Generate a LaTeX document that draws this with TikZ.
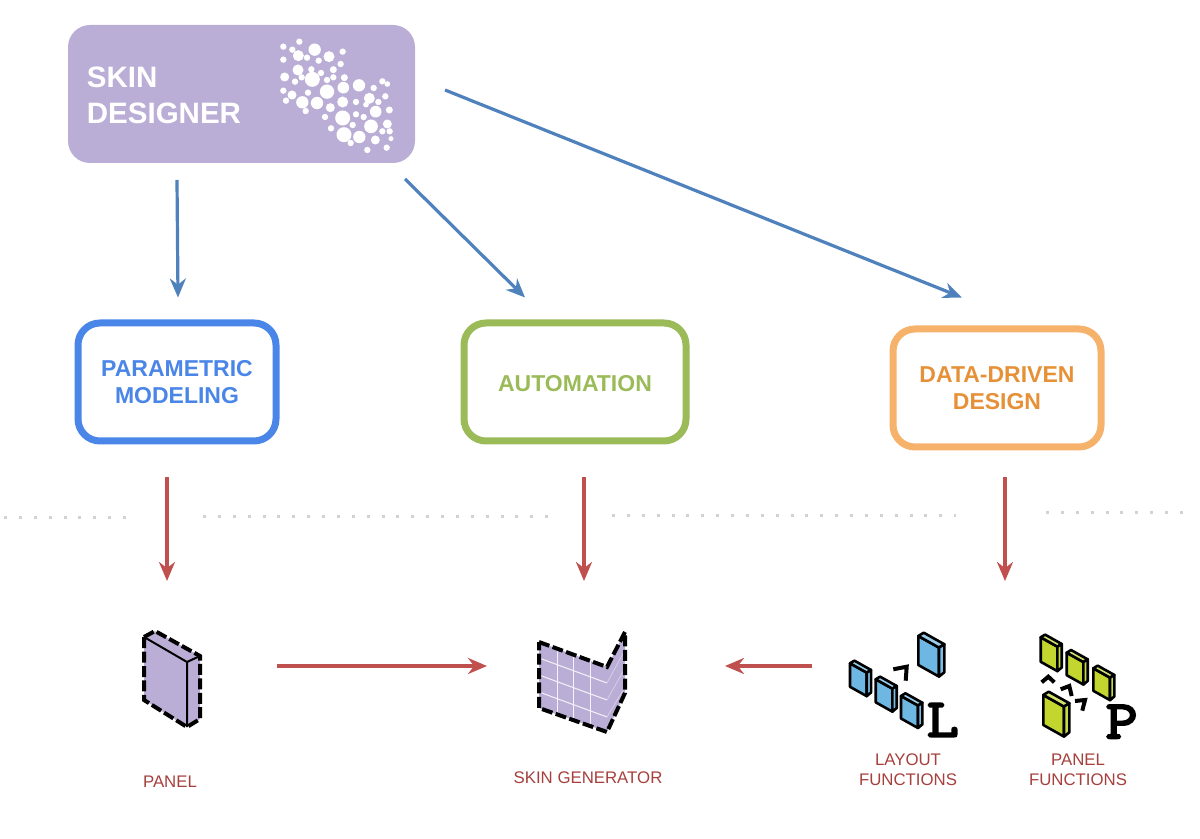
\documentclass[tikz,border=0pt]{standalone}
\usepackage{fontspec}
\setmainfont{Liberation Sans}
\newfontfamily\slabfont[FakeBold=4,FakeStretch=1.15]{Latin Modern Mono}
\usetikzlibrary{arrows.meta}
\definecolor{skinpurple}{HTML}{BBAED6}
\definecolor{parablue}{HTML}{4A86E8}
\definecolor{autogreen}{HTML}{9BBB59}
\definecolor{dataorange}{HTML}{F6B26B}
\definecolor{datatext}{HTML}{E69138}
\definecolor{flowblue}{HTML}{4F81BD}
\definecolor{flowred}{HTML}{C0504D}
\definecolor{labelred}{HTML}{A5403D}
\definecolor{layoutblue}{HTML}{6FB7E3}
\definecolor{panellime}{HTML}{C2D62F}
\tikzset{
  method/.style={draw=#1,line width=3.5pt,rounded corners=11pt,outer sep=0pt,minimum height=59pt,
    align=center,font=\bfseries\fontsize{11.5}{13.5}\selectfont},
  bluearrow/.style={->,flowblue,line width=1.6pt},
  redarrow/.style={->,flowred,line width=1.6pt},
  sepdots/.style={gray!35,line width=1.5pt,dash pattern=on 1.5pt off 5.94pt},
  dashedge/.style={line width=2pt,dash pattern=on 5.5pt off 1.7pt},
  chevron/.style={line width=2pt},
  caption/.style={labelred,align=center,font=\fontsize{8.4}{10}\selectfont},
  bigletter/.style={font=\slabfont\fontsize{27}{27}\selectfont}
}
% small solid box: colour, x, y, width, height
\newcommand{\slabbox}[5]{
  \pgfmathsetmacro{\xa}{#2+#4}
  \pgfmathsetmacro{\ya}{#3+0.56*#4}
  \pgfmathsetmacro{\xb}{\xa+0.26*#4}
  \pgfmathsetmacro{\yb}{\ya-0.16*#4}
  \pgfmathsetmacro{\xc}{#2+0.26*#4}
  \pgfmathsetmacro{\yc}{#3-0.16*#4}
  \draw[line width=1.3pt,line join=round,fill=#1] (#2,#3)--(\xa,\ya)--(\xa,\ya+#5)--(#2,#3+#5)--cycle;
  \draw[line width=1.3pt,line join=round,fill=#1!70] (#2,#3)--(\xc,\yc)--(\xb,\yb)--(\xa,\ya)--cycle;
  \draw[line width=1.3pt,line join=round,fill=#1!90] (\xa,\ya)--(\xb,\yb)--(\xb,\yb+#5-1)--(\xa,\ya+#5)--cycle;
}
\begin{document}
\begin{tikzpicture}[x=0.5pt,y=-0.5pt,>={Stealth[length=9.5pt,width=8pt]}]
  \useasboundingbox (0,0) rectangle (1200,839);
  % Top box
  \node[fill=skinpurple,rounded corners=11pt,outer sep=0pt,minimum width=173.5pt,minimum height=69pt] (designer) at (241.5,94) {};
  \node[white,anchor=west,align=left,inner sep=0pt,font=\bfseries\fontsize{14.75}{18}\selectfont] (designertext) at (86.5,95) {SKIN\\DESIGNER};
  \foreach \bx/\by/\br in {670/95/8,718/80/8,697/104/8,764/104/17,848/110/8,715/122/15,741/128/8,776/137/8,807/125/15,670/134/8,842/147/8,
    714/165/15,754/163/8,820/164/9,783/174/8,674/186/12,725/187/8,757/193/21,820/187/8,853/188/9,705/200/8,801/195/8,897/211/17,850/218/16,
    967/199/8,982/207/7,941/219/8,801/230/20,670/227/8,744/233/8,696/240/12,928/250/15,976/244/8,678/257/8,727/262/17,771/264/17,848/261/15,
    888/261/8,955/261/8,918/269/7,811/278/12,737/288/8,947/290/16,988/285/9,888/298/8,795/306/8,848/309/21,911/306/8,878/330/8,982/327/12,
    933/334/19,813/340/8,967/349/8,989/349/8,852/359/21,898/366/17,946/375/12,993/371/6,872/384/8,980/398/8,922/405/8}{
    \fill[white] ({60+\bx/3},{15+\by/3}) circle ({(\br+1.5)/6*1pt});
  }
  % Three approaches
  \node[method=parablue,text=parablue,minimum width=99pt] (parametric) at (177,382) {PARAMETRIC\\MODELING};
  \node[method=autogreen,text=autogreen,minimum width=111pt] (automation) at (575,382) {\rule{0pt}{9.3pt}AUTOMATION};
  \node[method=dataorange,text=datatext,minimum width=104pt] (datadriven) at (997,388) {DATA-DRIVEN\\DESIGN};
  % Separator
  \draw[sepdots] (4,518)--(126,518);
  \draw[sepdots] (203,517)--(548,517);
  \draw[sepdots] (612,516)--(956,516);
  \draw[sepdots] (1046,513)--(1183,513);
  % Panel icon
  \coordinate (panel) at (172,679);
  \fill[skinpurple] (144,637)--(155,631)--(200,656)--(200,719)--(187,727)--(144,700)--cycle;
  \draw[line width=1pt] (144,637)--(187,662)--(200,656) (187,662)--(187,727);
  \draw[dashedge] (144,637)--(155,631)--(200,656)--(200,719)--(187,727)--(144,700)--cycle;
  % Skin icon
  \coordinate (skin) at (582,682);
  \fill[skinpurple] (539,642)--(607,667)--(625,632)--(625,693)--(607,732)--(539,708)--cycle;
  \foreach \ya/\yb/\yc in {658/683/650,675/700/668,692/717/687}{
    \draw[white!85!skinpurple,line width=0.5pt] (539,\ya)--(607,\yb);
    \draw[white!40!skinpurple,line width=0.4pt] (607,\yb)--(625,\yc);
  }
  \foreach \xa/\ya/\yb in {557/649/715,573/655/721,590/661/727}{
    \draw[white!85!skinpurple,line width=0.5pt] (\xa,\ya)--(\xa,\yb);
  }
  \draw[dashedge] (539,642)--(607,667)--(625,632)--(625,693)--(607,732)--(539,708)--cycle;
  % Layout icon
  \coordinate (layout) at (905,680);
  \slabbox{layoutblue}{850}{663.3}{16.7}{23.5}
  \slabbox{layoutblue}{875.7}{679.3}{16.7}{23}
  \slabbox{layoutblue}{901}{696}{17}{22.5}
  \slabbox{layoutblue}{918.3}{636}{20.7}{29}
  \draw[chevron] (893.3,669.3)--(906.7,666.7)--(905.7,680.7);
  \node[bigletter,inner sep=0pt] (letterL) at (942.7,720) {L};
  % Panel functions icon
  \slabbox{panellime}{1040.7}{637.3}{16.7}{24.5}
  \slabbox{panellime}{1066.7}{652.7}{16.7}{22.5}
  \slabbox{panellime}{1093.3}{668.3}{16.7}{22.5}
  \slabbox{panellime}{1043.3}{695}{20.7}{30}
  \draw[chevron] (1041.7,682.3)--(1048.3,676.7)--(1054.3,682.3);
  \draw[chevron] (1060.7,689.3)--(1069.3,686)--(1071.7,696);
  \draw[chevron] (1075,701)--(1085,700)--(1082.3,710.7);
  \node[bigletter,inner sep=0pt] (letterP) at (1121.7,721.7) {P};
  % Captions
  \node[caption] (paneltext) at (170,782) {PANEL};
  \node[caption] (skintext) at (588,778) {SKIN GENERATOR};
  \node[caption] (layouttext) at (908,770) {LAYOUT\\FUNCTIONS};
  \node[caption] (panelfunctext) at (1078,770) {PANEL\\FUNCTIONS};
  % Arrows
  \draw[bluearrow] ([xshift=-32.25pt,yshift=-8.5pt]designer.south)--([xshift=0.5pt,yshift=12.75pt]parametric.north);
  \draw[bluearrow] ([xshift=81.75pt,yshift=-8pt]designer.south)--([xshift=-25pt,yshift=12.75pt]automation.north);
  \draw[bluearrow] ([xshift=15pt,yshift=2pt]designer.east)--([xshift=-17.5pt,yshift=15.75pt]datadriven.north);
  \draw[redarrow] ([xshift=-5pt,yshift=-18.25pt]parametric.south)--([xshift=-2.5pt,yshift=49pt]panel);
  \draw[redarrow] ([xshift=4.5pt,yshift=-18.25pt]automation.south)--([xshift=1pt,yshift=50.5pt]skin);
  \draw[redarrow] ([xshift=4pt,yshift=-15.25pt]datadriven.south)--([xshift=50pt,yshift=49.5pt]layout);
  \draw[redarrow] ([xshift=52.5pt,yshift=6.5pt]panel)--([xshift=-47.5pt,yshift=8pt]skin);
  \draw[redarrow] ([xshift=-46.5pt,yshift=7pt]layout)--([xshift=71.5pt,yshift=8pt]skin);
\end{tikzpicture}
\end{document}
